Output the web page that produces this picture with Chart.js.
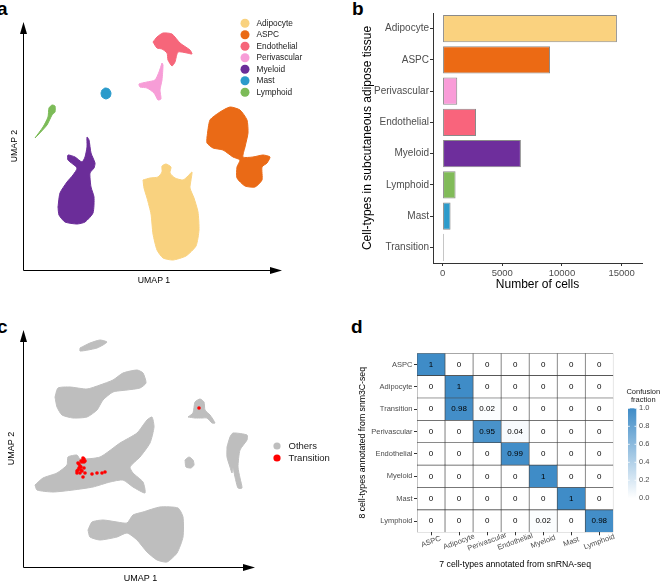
<!DOCTYPE html>
<html>
<head>
<meta charset="utf-8">
<script src="https://cdn.jsdelivr.net/npm/chart.js@4.4.1/dist/chart.umd.min.js"></script>
<style>
  body { margin: 0; background: #fff; width: 660px; height: 584px; position: relative; overflow: hidden;
         font-family: "Liberation Sans", Arial, Helvetica, sans-serif; }
  canvas { position: absolute; }
  .tag { position: absolute; font-weight: bold; font-size: 19px; line-height: 19px; color: #000; }
</style>
</head>
<body>
<div class="tag" style="left:-3px;top:-1px">a</div>
<div class="tag" style="left:352px;top:-1px">b</div>
<div class="tag" style="left:-3px;top:317px">c</div>
<div class="tag" style="left:351px;top:317px">d</div>
<canvas id="ca" width="330" height="290" style="left:0;top:0"></canvas>
<canvas id="cb" width="330" height="290" style="left:330px;top:0"></canvas>
<canvas id="cc" width="330" height="294" style="left:0;top:290px"></canvas>
<canvas id="cd" width="330" height="294" style="left:330px;top:290px"></canvas>
<script>
// ---- panel a: UMAP cluster outlines (axis origin = 0,0)
const clustersA = ['Adipocyte', 'ASPC', 'Endothelial', 'Perivascular', 'Myeloid', 'Mast', 'Lymphoid'];
const colorsA = ['#F9D27F', '#EA6A16', '#F6667A', '#F79DD7', '#6B2D99', '#2B9BCB', '#7CBB58'];
const adipocyteA = [[120,90],[127,92],[135,93],[139,98],[139,104],[143,106],[148,103],[147,97],[152,92],[160,90],[165,94],[169,98],[168,90],[167,82],[171,72],[175,58],[176,40],[173,24],[163,14],[150,10],[140,12],[134,20],[130,36],[128,56],[124,72],[121,82]];
const aspcA = [[184,133],[187,150],[197,158],[207,163],[217,160],[224,150],[225,137],[222,123],[220,113],[230,113],[240,115],[247,113],[244,107],[239,103],[239,90],[232,83],[222,84],[214,92],[214,103],[217,110],[210,113],[200,120],[190,122],[184,127]];
const endothelialA = [[130,228],[134,233],[140,237],[149,236],[157,227],[167,220],[169,216],[164,217],[155,218],[152,208],[149,204],[145,210],[144,217],[139,221],[134,222]];
const perivascularA = [[139,207],[140,205],[139,190],[137,180],[138,171],[135,170],[131,177],[124,182],[117,183],[116,186],[124,188],[132,190],[136,198]];
const myeloidA = [[35,63],[37,77],[44,88],[50,95],[54,102],[45,110],[45,115],[52,113],[59,108],[62,113],[64,123],[64,133],[66,130],[68,117],[72,107],[71,102],[67,97],[68,83],[71,73],[70,57],[62,48],[54,46],[42,48],[36,55]];
const mastA = [[79,180],[82,182],[86,181],[88,177],[87,173],[83,171],[79,173],[78,177]];
const lymphoidA = [[12,132],[20,143],[25,153],[26,162],[29,165],[32,164],[32,158],[29,155],[24,145],[15,135]];
const outlinesA = [adipocyteA, aspcA, endothelialA, perivascularA, myeloidA, mastA, lymphoidA];

// ---- panel b: cell counts
const cellTypesB = ['Adipocyte', 'ASPC', 'Perivascular', 'Endothelial', 'Myeloid', 'Lymphoid', 'Mast', 'Transition'];
const cellCountsB = [14600, 9000, 1230, 2800, 6560, 1090, 670, 100];
const barColorsB = ['#FAD27F', '#EC6A14', '#F99CD8', '#F9647C', '#6E2E9C', '#81BB59', '#2D9BCB', '#BEBEBE'];
const countTicksB = [0, 5000, 10000, 15000];

// ---- panel c: grey cluster outlines + transition cells
const othersC1 = [[57,219],[67,224],[77,227],[84,225],[80,222],[74,219],[65,217],[57,216]];
const othersC2 = [[32,170],[35,179],[47,180],[64,178],[77,182],[90,187],[100,194],[114,197],[120,194],[123,184],[117,179],[104,177],[90,175],[80,167],[74,157],[64,150],[50,149],[39,152],[34,160]];
const othersC3 = [[12,82],[20,89],[34,94],[44,102],[45,110],[54,112],[57,108],[77,110],[97,124],[114,134],[124,147],[129,150],[131,140],[127,124],[117,110],[107,100],[110,94],[120,85],[122,74],[110,80],[100,87],[87,85],[70,80],[50,77],[30,75],[14,77]];
const othersC4 = [[65,37],[69,45],[80,47],[94,45],[104,44],[110,52],[120,55],[137,60],[155,59],[160,50],[160,30],[154,14],[144,5],[134,7],[124,15],[114,27],[104,34],[94,30],[77,27],[67,30]];
const othersC5 = [[165,150],[170,154],[172,165],[177,168],[181,165],[182,157],[187,152],[192,144],[189,144],[184,149],[179,149],[172,149]];
const othersC6 = [[162,107],[166,110],[170,107],[171,102],[168,99],[163,100]];
const othersC7 = [[204,120],[207,130],[210,134],[224,132],[224,127],[217,117],[215,100],[217,89],[219,79],[215,79],[212,90],[210,99],[209,94],[207,100],[204,110]];
const outlinesC = [othersC1, othersC2, othersC3, othersC4, othersC5, othersC6, othersC7];
const transitionC = [[55,104],[57,101],[59,105],[60,107],[56,99],[54,96],[54,94],[57,94],[62,94],[60,90],[69,93],[74,94],[79,94],[82,95],[58,97],[61,105],[58,100],[56,103],[55,97],[61,99],[59,96],[60,109],[61,108],[62,106],[58,106],[176,159]];

// ---- panel d: confusion fractions (rows: snm3C-seq, cols: snRNA-seq)
const rowTypesD = ['ASPC', 'Adipocyte', 'Transition', 'Perivascular', 'Endothelial', 'Myeloid', 'Mast', 'Lymphoid'];
const colTypesD = ['ASPC', 'Adipocyte', 'Perivascular', 'Endothelial', 'Myeloid', 'Mast', 'Lymphoid'];
const aspcRowD         = [1, 0, 0, 0, 0, 0, 0];
const adipocyteRowD    = [0, 1, 0, 0, 0, 0, 0];
const transitionRowD   = [0, 0.98, 0.02, 0, 0, 0, 0];
const perivascularRowD = [0, 0, 0.95, 0.04, 0, 0, 0];
const endothelialRowD  = [0, 0, 0, 0.99, 0, 0, 0];
const myeloidRowD      = [0, 0, 0, 0, 1, 0, 0];
const mastRowD         = [0, 0, 0, 0, 0, 1, 0];
const lymphoidRowD     = [0, 0, 0, 0, 0.02, 0, 0.98];
const fractionTicksD = [0, 0.2, 0.4, 0.6, 0.8, 1.0];

const FONT = '"Liberation Sans", Arial, Helvetica, sans-serif';
Chart.defaults.font.family = FONT;
Chart.defaults.color = '#4d4d4d';
Chart.defaults.animation = false;
Chart.defaults.responsive = false;
Chart.defaults.plugins.legend.display = false;
Chart.defaults.plugins.tooltip.enabled = false;

function shape(label, pts, color) {
  return {
    label: label,
    data: pts.concat([pts[0]]).map(p => ({x: p[0], y: p[1]})),
    showLine: true, fill: 'shape', tension: 0.2,
    backgroundColor: color, borderColor: color, borderWidth: 1, pointRadius: 0
  };
}

function umapAxis(max, text, size, pad, fit) {
  return {
    type: 'linear', min: 0, max: max,
    ticks: {display: false}, grid: {display: false}, border: {display: false},
    title: {display: true, text: text, color: '#000', font: {size: size}, padding: pad},
    afterFit: fit
  };
}

// arrows along the UMAP axes
const umapArrows = {
  id: 'umapArrows',
  afterDraw(chart) {
    const {ctx, chartArea} = chart;
    const l = chartArea.left + 0.5, b = chartArea.bottom + 0.5, t = chartArea.top, r = chartArea.right - 3;
    ctx.save();
    ctx.strokeStyle = '#000';
    ctx.fillStyle = '#000';
    ctx.lineWidth = 1;
    ctx.beginPath();
    ctx.moveTo(l, t + 8);
    ctx.lineTo(l, b);
    ctx.lineTo(r - 8, b);
    ctx.stroke();
    ctx.beginPath();
    ctx.moveTo(l, t); ctx.lineTo(l - 3.5, t + 12); ctx.lineTo(l + 3.5, t + 12);
    ctx.closePath(); ctx.fill();
    ctx.beginPath();
    ctx.moveTo(r, b); ctx.lineTo(r - 12, b - 3.5); ctx.lineTo(r - 12, b + 3.5);
    ctx.closePath(); ctx.fill();
    ctx.restore();
  }
};

function dotLegend(labels, colors, x, y0, step, rad, size) {
  return {
    id: 'dotLegend',
    afterDraw(chart) {
      const ctx = chart.ctx;
      ctx.save();
      ctx.font = size + 'px ' + FONT;
      ctx.textBaseline = 'middle';
      labels.forEach((lab, i) => {
        const y = y0 + i * step;
        ctx.fillStyle = colors[i];
        ctx.beginPath();
        ctx.arc(x, y, rad, 0, Math.PI * 2);
        ctx.fill();
        ctx.fillStyle = '#1a1a1a';
        ctx.fillText(lab, x + 11.5, y);
      });
      ctx.restore();
    }
  };
}

// panel a
new Chart(document.getElementById('ca'), {
  type: 'scatter',
  data: {datasets: clustersA.map((name, i) => shape(name, outlinesA[i], colorsA[i]))},
  options: {
    layout: {padding: {top: 22, right: 45, left: 0, bottom: 0}},
    scales: {
      x: umapAxis(262, 'UMAP 1', 8.7, {bottom: 3.8}, s => { s.height = 20; }),
      y: umapAxis(248, 'UMAP 2', 8.7, {top: 9.8}, s => { s.width = 23; })
    }
  },
  plugins: [umapArrows, dotLegend(clustersA, colorsA, 245, 23.3, 11.5, 4.5, 8.3)]
});

// panel b
new Chart(document.getElementById('cb'), {
  type: 'bar',
  data: {
    labels: cellTypesB,
    datasets: [{
      data: cellCountsB, backgroundColor: barColorsB, borderColor: '#8a8a8a', borderWidth: 1,
      borderSkipped: false, barPercentage: 0.87, categoryPercentage: 1
    }]
  },
  options: {
    indexAxis: 'y',
    layout: {padding: {top: 13, right: 18, left: 0, bottom: 0}},
    scales: {
      x: {
        type: 'linear', min: -800, max: 16700,
        afterBuildTicks: s => { s.ticks = countTicksB.map(v => ({value: v})); },
        ticks: {font: {size: 9.5}, color: '#4d4d4d', padding: 2, maxRotation: 0, callback: v => String(v)},
        grid: {drawOnChartArea: false, tickLength: 3, color: '#333'},
        border: {color: '#333', width: 1},
        title: {display: true, text: 'Number of cells', color: '#000', font: {size: 12, lineHeight: 1}, padding: {top: 0, bottom: -1}},
        afterFit: s => { s.height = 27; }
      },
      y: {
        ticks: {font: {size: 10}, color: '#4d4d4d', padding: 1},
        grid: {drawOnChartArea: false, tickLength: 3, color: '#333', offset: false},
        border: {color: '#333', width: 1},
        title: {display: true, text: 'Cell-types in subcutaneous adipose tissue', color: '#000', font: {size: 12}, padding: {top: 30.8}},
        afterFit: s => { s.width = 103; }
      }
    }
  }
});

// panel c
new Chart(document.getElementById('cc'), {
  type: 'scatter',
  data: {
    datasets: [{
      label: 'Transition', data: transitionC.map(p => ({x: p[0], y: p[1]})),
      pointRadius: 1.8, backgroundColor: '#FF0000', borderWidth: 0
    }].concat(outlinesC.map(o => shape('Others', o, '#BEBEBE')))
  },
  options: {
    layout: {padding: {top: 40, right: 72, left: 0, bottom: 0}},
    scales: {
      x: umapAxis(235, 'UMAP 1', 9, {bottom: 0.3}, s => { s.height = 17; }),
      y: umapAxis(237, 'UMAP 2', 9, {top: 6.3}, s => { s.width = 23; })
    }
  },
  plugins: [umapArrows, dotLegend(['Others', 'Transition'], ['#BEBEBE', '#FF0000'], 277, 156, 12, 3.6, 9.5)]
});

// panel d
const matrixD = [aspcRowD, adipocyteRowD, transitionRowD, perivascularRowD, endothelialRowD, myeloidRowD, mastRowD, lymphoidRowD];
const heatLow = [255, 255, 255], heatHigh = [63, 140, 199];
function heatColor(v) {
  const c = heatLow.map((lo, k) => Math.round(lo + (heatHigh[k] - lo) * v));
  return 'rgb(' + c.join(',') + ')';
}
const heatRows = matrixD.map((row, r) => ({
  label: rowTypesD[r],
  data: row.map(() => 1),
  values: row,
  backgroundColor: row.map(heatColor),
  borderColor: '#444', borderWidth: 0.65, borderSkipped: false,
  barPercentage: 1, categoryPercentage: 1
})).reverse();

const heatExtras = {
  id: 'heatExtras',
  afterDatasetsDraw(chart) {
    const ctx = chart.ctx;
    ctx.save();
    ctx.textAlign = 'center';
    ctx.textBaseline = 'middle';
    ctx.font = '8px ' + FONT;
    ctx.fillStyle = '#000';
    chart.data.datasets.forEach((ds, di) => {
      chart.getDatasetMeta(di).data.forEach((el, i) => {
        const v = ds.values[i];
        ctx.fillText(v === 0 || v === 1 ? String(v) : v.toFixed(2), el.x, (el.y + el.base) / 2);
      });
    });
    // column labels, rotated and centred on their ticks
    const xs = chart.scales.x, bottom = chart.chartArea.bottom;
    ctx.font = '7.5px ' + FONT;
    ctx.fillStyle = '#4d4d4d';
    chart.data.labels.forEach((lab, i) => {
      ctx.save();
      ctx.translate(xs.getPixelForValue(i), bottom + 9.5);
      ctx.rotate(-20 * Math.PI / 180);
      ctx.fillText(lab, 0, 0);
      ctx.restore();
    });
    // colour bar
    const bx = 298, by = 118.3, bw = 8.3, bh = 90;
    const g = ctx.createLinearGradient(0, by, 0, by + bh);
    g.addColorStop(0, heatColor(1));
    g.addColorStop(1, heatColor(0));
    ctx.fillStyle = g;
    ctx.fillRect(bx, by, bw, bh);
    ctx.strokeStyle = '#fff';
    ctx.lineWidth = 0.8;
    ctx.textAlign = 'left';
    fractionTicksD.forEach(v => {
      const y = by + bh - v * bh;
      ctx.beginPath();
      ctx.moveTo(bx, y); ctx.lineTo(bx + 1.8, y);
      ctx.moveTo(bx + bw - 1.8, y); ctx.lineTo(bx + bw, y);
      ctx.stroke();
      ctx.fillStyle = '#4d4d4d';
      ctx.fillText(v.toFixed(1), bx + 11, y);
    });
    ctx.textAlign = 'center';
    ctx.fillStyle = '#1a1a1a';
    ctx.fillText('Confusion', 313.3, 101.7);
    ctx.fillText('fraction', 313.3, 110);
    ctx.restore();
  }
};

new Chart(document.getElementById('cd'), {
  type: 'bar',
  data: {labels: colTypesD, datasets: heatRows},
  options: {
    layout: {padding: {top: 63.3, right: 46.7, left: 0, bottom: 0}},
    scales: {
      x: {
        stacked: true,
        ticks: {display: false},
        grid: {offset: false, drawOnChartArea: false, tickLength: 3, color: '#333'},
        border: {display: false},
        title: {display: true, text: '7 cell-types annotated from snRNA-seq', color: '#000', font: {size: 8.7}, padding: {bottom: 13.8}},
        afterFit: s => { s.height = 51.7; }
      },
      y: {
        type: 'linear', stacked: true, min: 0, max: 8,
        afterBuildTicks: s => { s.ticks = rowTypesD.map((_, i) => ({value: i + 0.5})); },
        ticks: {font: {size: 7.5}, color: '#4d4d4d', padding: 1.5, callback: v => rowTypesD[7 - Math.floor(v)]},
        grid: {drawOnChartArea: false, tickLength: 3, color: '#333'},
        border: {display: false},
        title: {display: true, text: '8 cell-types annotated from snm3C-seq', color: '#000', font: {size: 8.7}, padding: {top: 27.8}},
        afterFit: s => { s.width = 87; }
      }
    }
  },
  plugins: [heatExtras]
});
</script>
</body>
</html>
